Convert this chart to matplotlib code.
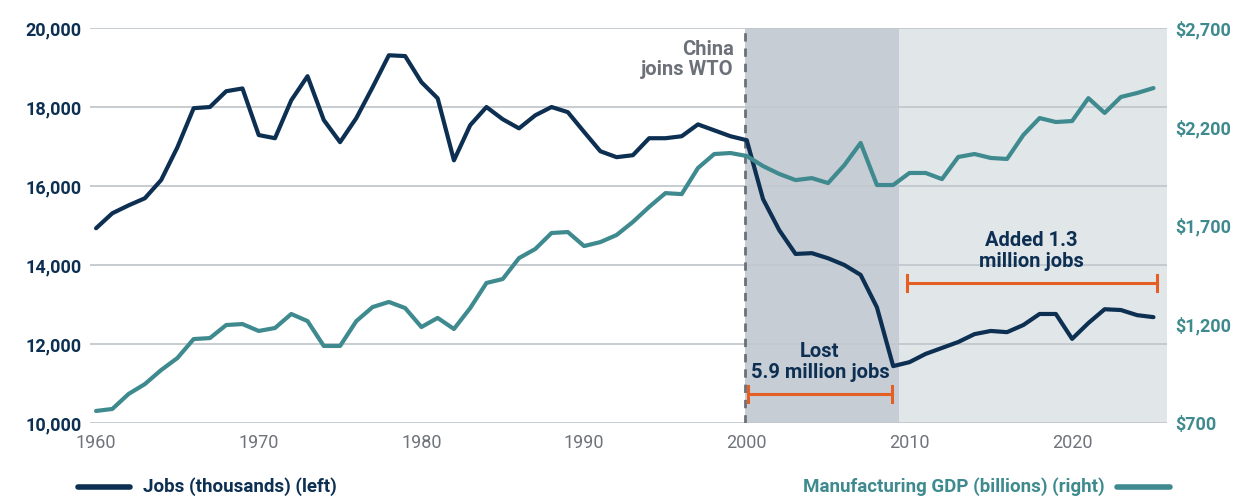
import numpy as np
import matplotlib.pyplot as plt
from matplotlib.lines import Line2D

plt.rcParams['font.family'] = ['Roboto', 'DejaVu Sans']

# data
years = list(range(1960, 2026))
jobs = [14930, 15310, 15510, 15690, 16150, 16980, 17970, 18000, 18400, 18470,
        17290, 17210, 18170, 18780, 17670, 17110, 17720, 18500, 19310, 19290,
        18630, 18220, 16650, 17540, 18000, 17690, 17460, 17790, 18000, 17870,
        17370, 16880, 16730, 16780, 17210, 17210, 17260, 17560, 17410, 17260,
        17160, 15670, 14880, 14280, 14300, 14170, 14000, 13750, 12930, 11440,
        11540, 11750, 11900, 12050, 12250, 12330, 12300, 12480, 12760, 12760,
        12130, 12530, 12880, 12860, 12730, 12680]
gdp = [761, 771, 847, 897, 968, 1029, 1125, 1130, 1196, 1201,
       1166, 1181, 1252, 1216, 1090, 1090, 1216, 1287, 1313, 1282,
       1186, 1232, 1176, 1282, 1409, 1429, 1535, 1581, 1662, 1667,
       1596, 1616, 1652, 1718, 1794, 1864, 1859, 1991, 2062, 2067,
       2052, 2001, 1961, 1930, 1940, 1915, 2006, 2118, 1905, 1905,
       1966, 1966, 1935, 2047, 2062, 2042, 2037, 2158, 2244, 2224,
       2229, 2345, 2270, 2351, 2371, 2396]

left_ticks = [10000, 12000, 14000, 16000, 18000, 20000]
right_ticks = [700, 1200, 1700, 2200, 2700]
x_ticks = [1960, 1970, 1980, 1990, 2000, 2010, 2020]

navy = '#0c2f52'
teal = '#3e8a8e'
orange = '#e35f24'
gray = '#6b7079'

fig = plt.figure(figsize=(12.35, 4.96), dpi=100)
ax = fig.add_axes([0.0729, 0.1472, 0.872, 0.7963])
ax2 = ax.twinx()

# shaded periods
ax.axvspan(1999.9, 2009.35, color='#c6cdd5', lw=0, zorder=0)
ax.axvspan(2009.35, 2026, color='#e1e6e9', lw=0, zorder=0)

for t in left_ticks:
    ax.axhline(t, color='#c3c8ce', lw=1.3, zorder=1)

ax.axvline(1999.9, color='#6b7079', lw=2, ls=(0, (3, 2.5)), zorder=2)

ax.plot(years, jobs, color=navy, lw=3, zorder=4, solid_capstyle='round')
ax2.plot(years, gdp, color=teal, lw=3, zorder=3, solid_capstyle='round')

ax.set_xlim(1959.63, 2025.83)
ax.set_ylim(10000, 20000)
ax2.set_ylim(700, 2700)

ax.set_xticks(x_ticks)
ax.set_xticklabels([str(x) for x in x_ticks], color='#6f737a', fontsize=13)
ax.set_yticks(left_ticks)
ax.set_yticklabels(['{:,}'.format(t) for t in left_ticks], color=navy,
                   fontsize=13, fontweight='bold')
ax2.set_yticks(right_ticks)
ax2.set_yticklabels(['${:,}'.format(t) for t in right_ticks], color=teal,
                    fontsize=13, fontweight='bold')
ax.tick_params(length=0, pad=6)
ax2.tick_params(length=0, pad=6)
ax.tick_params(axis='x', pad=8)
for a in (ax, ax2):
    for s in a.spines.values():
        s.set_visible(False)

# annotations
ax.text(1999.2, 19200, 'China\njoins WTO', ha='right', va='center',
        color=gray, fontsize=14.5, fontweight='bold', linespacing=1.1)
ax.text(2004.5, 11540, 'Lost\n5.9 million jobs', ha='center', va='center',
        color=navy, fontsize=14.5, fontweight='bold', linespacing=1.1)
ax.text(2017.5, 14350, 'Added 1.3\nmillion jobs', ha='center', va='center',
        color=navy, fontsize=14.5, fontweight='bold', linespacing=1.1)

ax.plot([2000.1, 2008.9], [10730, 10730], color=orange, lw=2.2, zorder=5)
ax.plot([2000.1, 2000.1], [10530, 10930], color=orange, lw=2.2, zorder=5)
ax.plot([2008.9, 2008.9], [10530, 10930], color=orange, lw=2.2, zorder=5)
ax.plot([2009.85, 2025.2], [13540, 13540], color=orange, lw=2.2, zorder=5)
ax.plot([2009.85, 2009.85], [13340, 13740], color=orange, lw=2.2, zorder=5)
ax.plot([2025.2, 2025.2], [13340, 13740], color=orange, lw=2.2, zorder=5)

# legend drawn by hand at the bottom
fig.add_artist(Line2D([78 / 1235, 130 / 1235], [0.018, 0.018], color=navy, lw=4,
                      solid_capstyle='round'))
fig.text(143 / 1235, 0.018, 'Jobs (thousands) (left)', color=navy, fontsize=13.5,
         fontweight='bold', va='center', ha='left')
fig.add_artist(Line2D([1117 / 1235, 1170 / 1235], [0.018, 0.018], color=teal, lw=4,
                      solid_capstyle='round'))
fig.text(1105 / 1235, 0.018, 'Manufacturing GDP (billions) (right)', color=teal,
         fontsize=13.5, fontweight='bold', va='center', ha='right')

fig.savefig('out.png', dpi=100)
